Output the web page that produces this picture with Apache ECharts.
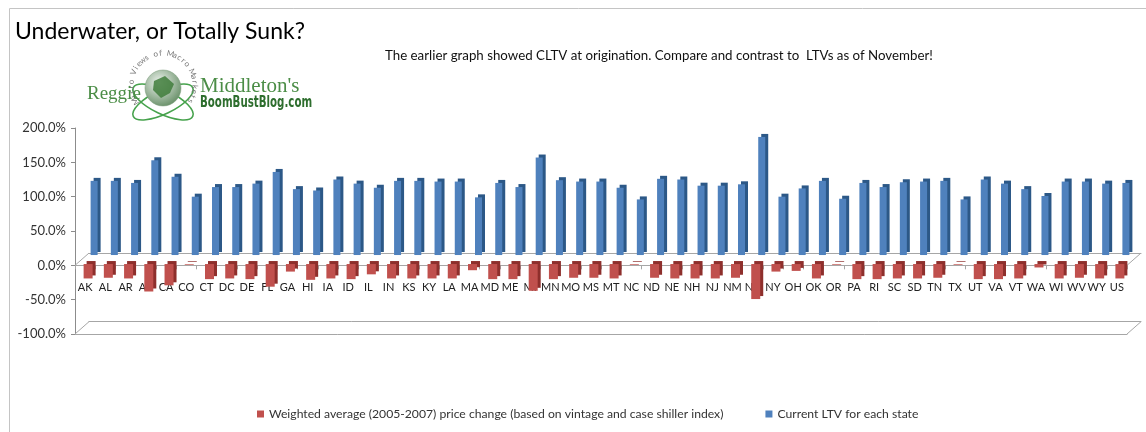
<!DOCTYPE html>
<html>
<head>
<meta charset="utf-8">
<script src="https://cdn.jsdelivr.net/npm/echarts@6/dist/echarts.min.js"></script>
<style>
  html, body { margin: 0; padding: 0; background: #fff; }
  #chart { width: 1146px; height: 432px; }
</style>
</head>
<body>
<div id="chart"></div>
<script>
// data
var states = ['AK','AL','AR','AZ','CA','CO','CT','DC','DE','FL','GA','HI','IA','ID','IL','IN','KS','KY','LA','MA',
  'MD','ME','MI','MN','MO','MS','MT','NC','ND','NE','NH','NJ','NM','NV','NY','OH','OK','OR','PA','RI',
  'SC','SD','TN','TX','UT','VA','VT','WA','WI','WV','WY','US'];
var priceChange = [-21,-20,-21,-40,-31,-1,-22,-21,-22,-33,-11,-23,-21,-22,-15,-21,-21,-21,-21,-9,
  -22,-22,-39,-22,-20,-20,-21,-1,-20,-21,-21,-21,-20,-51,-11,-10,-21,-1,-22,-22,
  -21,-21,-20,-1,-22,-22,-21,-5,-21,-20,-21,-21];
var currentLtv = [108,108,105,138,114,85,99,99,104,121,96,94,110,104,98,108,108,107,107,84,
  105,99,142,109,107,107,98,81,111,110,101,101,103,172,85,97,108,82,105,99,
  106,107,108,81,110,104,96,86,107,107,104,105];
var yMin = -100, yMax = 200, yStep = 50;
var seriesNames = ['Weighted average (2005-2007) price change (based on vintage and case shiller index)',
  'Current LTV for each state'];

var chart = echarts.init(document.getElementById('chart'));
var font = 'Lato';

// fake 3D: each depth layer is a grid shifted right/up
var H = 432;
var front = { left: 75, right: 19, top: 128, bottom: 98 };
var back = { left: 89, right: 5, top: 115.7, bottom: 110.3 };
function zeroY(g) { return g.top + (H - g.top - g.bottom) * yMax / (yMax - yMin); }
function zeroStrip(g) { return { left: g.left, right: g.right, top: g.top, bottom: H - zeroY(g) }; }

var grids = [
  front,                                          // 0 value axis + front floor edge
  { left: 78, right: 16, top: 126.7, bottom: 99.3 }, // 1 red row
  { left: 84, right: 10, top: 117.7, bottom: 108.3 }, // 2 blue row
  back,                                           // 3 back floor edge
  zeroStrip(front),                               // 4 front edge of zero plane + state labels
  zeroStrip(back)                                 // 5 back edge of zero plane
];

function hiddenX(g) { return { type: 'category', gridIndex: g, data: states, show: false }; }
function hiddenY(g) { return { type: 'value', gridIndex: g, min: yMin, max: yMax, interval: yStep, show: false }; }
function planeLine(g) {
  return {
    type: 'category', gridIndex: g, data: states, position: 'bottom',
    axisLine: { show: true, onZero: false, lineStyle: { color: '#a6a6a6', width: 1 } },
    axisTick: { show: false }, axisLabel: { show: false }
  };
}

chart.setOption({
  animation: false,
  title: [
    { text: 'Underwater, or Totally Sunk?', left: 15, top: 20, padding: 0,
      textStyle: { fontFamily: font, fontSize: 23, fontWeight: 'normal', color: '#000' } },
    { text: 'The earlier graph showed CLTV at origination. Compare and contrast to  LTVs as of November!',
      left: 385, top: 49, padding: 0, textStyle: { fontFamily: font, fontSize: 13.3, fontWeight: 'normal', color: '#111' } }
  ],
  legend: {
    left: 252, top: 403, itemWidth: 7, itemHeight: 7, itemGap: 42, icon: 'rect',
    data: seriesNames,
    textStyle: { fontFamily: font, fontSize: 12.2, color: '#333' }
  },
  grid: grids,
  xAxis: [
    planeLine(0),
    hiddenX(1),
    hiddenX(2),
    planeLine(3),
    {
      type: 'category', gridIndex: 4, data: states, position: 'bottom',
      axisLine: { onZero: false, lineStyle: { color: '#a6a6a6' } },
      axisTick: { show: true, length: 4, lineStyle: { color: '#a6a6a6' } },
      axisLabel: { interval: 0, margin: 17, fontFamily: font, fontSize: 11, color: '#222' }
    },
    planeLine(5)
  ],
  yAxis: [
    {
      type: 'value', gridIndex: 0, min: yMin, max: yMax, interval: yStep,
      axisLine: { show: true, lineStyle: { color: '#8c8c8c' } },
      axisTick: { show: true, length: 4, lineStyle: { color: '#8c8c8c' } },
      splitLine: { show: false },
      axisLabel: { margin: 9, fontFamily: font, fontSize: 13, color: '#333',
        formatter: function (v) { return v.toFixed(1) + '%'; } }
    },
    hiddenY(1), hiddenY(2), hiddenY(3),
    { type: 'value', gridIndex: 4, show: false },
    { type: 'value', gridIndex: 5, show: false }
  ],
  series: [
    {
      name: seriesNames[0], type: 'bar', xAxisIndex: 1, yAxisIndex: 1, data: priceChange,
      barWidth: 9, z: 3,
      itemStyle: { color: '#c0504d', shadowColor: '#8e2f2c', shadowOffsetX: 3, shadowOffsetY: -3, shadowBlur: 0 }
    },
    {
      name: seriesNames[1], type: 'bar', xAxisIndex: 2, yAxisIndex: 2, data: currentLtv,
      barWidth: 7,
      itemStyle: { color: '#4f81bd', shadowColor: '#2c5887', shadowOffsetX: 3, shadowOffsetY: -3, shadowBlur: 0 }
    }
  ]
});

// plane edges (diagonals) from axis positions
var f0 = chart.convertToPixel({ yAxisIndex: 0 }, 0);
var fMin = chart.convertToPixel({ yAxisIndex: 0 }, yMin);
var b0 = chart.convertToPixel({ yAxisIndex: 3 }, 0);
var bMin = chart.convertToPixel({ yAxisIndex: 3 }, yMin);
var fl = front.left, fr = 1146 - front.right;
var bl = back.left, br = 1146 - back.right;
var edge = { stroke: '#a6a6a6', lineWidth: 1 };

var gfx = [
  { type: 'rect', shape: { x: 9.5, y: 8.5, width: 1160, height: 440 }, style: { fill: 'none', stroke: '#c4c4c4', lineWidth: 1 }, silent: true },
  { type: 'line', shape: { x1: fl, y1: f0, x2: bl, y2: b0 }, style: edge, z: 1 },
  { type: 'line', shape: { x1: fr, y1: f0, x2: br, y2: b0 }, style: edge, z: 1 },
  { type: 'line', shape: { x1: fl, y1: fMin, x2: bl, y2: bMin }, style: edge, z: 1 },
  { type: 'line', shape: { x1: fr, y1: fMin, x2: br, y2: bMin }, style: edge, z: 1 }
];

// logo
var gx = 163, gy = 88;
gfx.push({ type: 'ellipse', x: gx, y: gy + 14, rotation: 0.45, shape: { cx: 0, cy: 0, rx: 33, ry: 12 },
  style: { fill: 'none', stroke: '#46a24c', lineWidth: 1.6 } });
gfx.push({ type: 'ellipse', x: gx, y: gy + 14, rotation: -0.45, shape: { cx: 0, cy: 0, rx: 33, ry: 12 },
  style: { fill: 'none', stroke: '#46a24c', lineWidth: 1.6 } });
gfx.push({ type: 'circle', shape: { cx: gx, cy: gy, r: 18 },
  style: { fill: new echarts.graphic.RadialGradient(0.4, 0.35, 0.75, [
    { offset: 0, color: '#eef3ee' }, { offset: 1, color: '#5b865b' }]), stroke: '#7a9a7a', lineWidth: 0.5 } });
gfx.push({ type: 'polygon', shape: { points: [[gx - 9, gy - 7], [gx + 2, gy - 12], [gx + 11, gy - 4], [gx + 7, gy + 5], [gx - 2, gy + 10], [gx - 10, gy + 2]] },
  style: { fill: '#3f7d3b', opacity: 0.85 } });

var arcText = 'Micro Views of Macro Markets';
var a0 = 150, a1 = 390, rArc = 32;
for (var i = 0; i < arcText.length; i++) {
  var a = (a0 + i * (a1 - a0) / (arcText.length - 1)) * Math.PI / 180;
  gfx.push({
    type: 'text', x: gx + rArc * Math.cos(a), y: gy - 3 + rArc * Math.sin(a),
    rotation: -(a - 1.5 * Math.PI),
    style: { text: arcText[i], font: '8px ' + font, fill: '#777', textAlign: 'center', textVerticalAlign: 'middle' }
  });
}
gfx.push({ type: 'text', x: 87, y: 94, style: { text: 'Reggie', font: '19px "Liberation Serif"', fill: '#4b8d46', textVerticalAlign: 'middle' } });
gfx.push({ type: 'text', x: 200, y: 86, style: { text: "Middleton's", font: '21px "Liberation Serif"', fill: '#4b8d46', textVerticalAlign: 'middle' } });
gfx.push({ type: 'text', x: 200, y: 103, scaleX: 0.76, style: { text: 'BoomBustBlog.com', font: 'bold 15px "DejaVu Sans Condensed"', fill: '#2e6e2e', textVerticalAlign: 'middle' } });

chart.setOption({ graphic: gfx });
</script>
</body>
</html>
